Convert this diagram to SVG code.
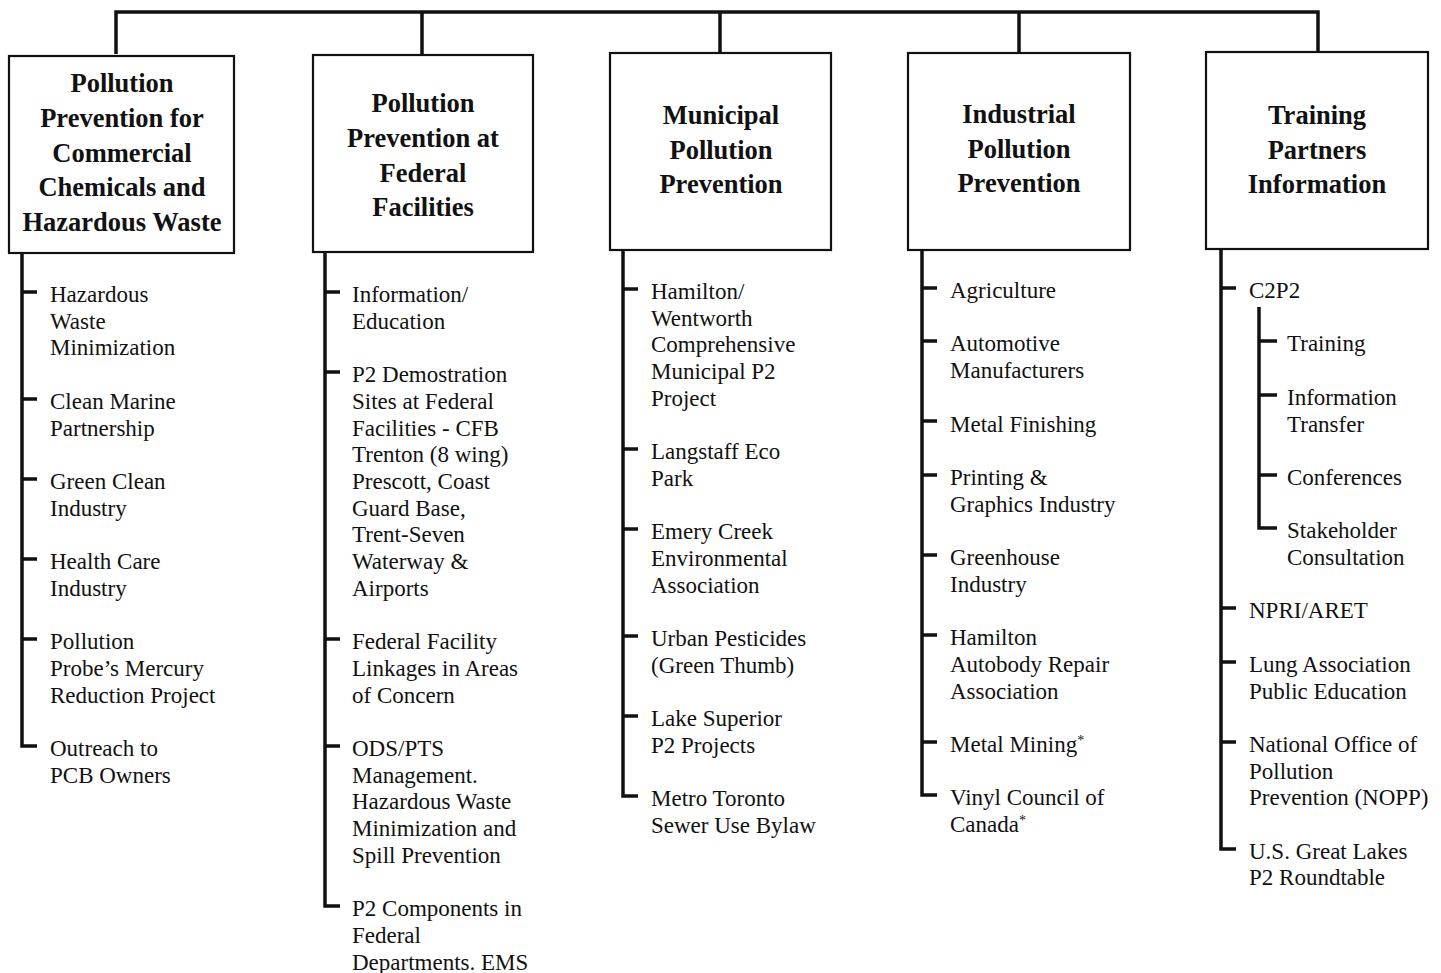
<svg xmlns="http://www.w3.org/2000/svg" width="1441" height="973" viewBox="0 0 1441 973">
<style>
.box{fill:#fff;stroke:#111;stroke-width:2.2}
.title{font-family:"Liberation Serif",serif;font-weight:bold;font-size:26.5px;fill:#111;text-anchor:middle}
.item{font-family:"Liberation Serif",serif;font-size:23px;fill:#111}
.ln{fill:none;stroke:#111;stroke-width:3.5;stroke-linejoin:miter}
.tk{fill:none;stroke:#111;stroke-width:3.5}
.ast{font-size:14px}
</style>
<rect width="1441" height="973" fill="#fff"/>
<g id="connectors">
<path class="ln" d="M116,54 V12 H1318 V52"/>
<path class="ln" d="M422,12 V55"/>
<path class="ln" d="M720,12 V53"/>
<path class="ln" d="M1019,12 V53"/>
<!-- col1 -->
<path class="ln" d="M22,253 V746 H37"/>
<path class="tk" d="M22,292 H37 M22,399 H37 M22,479 H37 M22,559 H37 M22,639 H37"/>
<!-- col2 -->
<path class="ln" d="M325,252 V906 H340"/>
<path class="tk" d="M325,292 H340 M325,372 H340 M325,639 H340 M325,746 H340"/>
<!-- col3 -->
<path class="ln" d="M623,250 V796 H638"/>
<path class="tk" d="M623,289 H638 M623,449 H638 M623,529 H638 M623,636 H638 M623,716 H638"/>
<!-- col4 -->
<path class="ln" d="M922,250 V795 H937"/>
<path class="tk" d="M922,288 H937 M922,341 H937 M922,421 H937 M922,475 H937 M922,555 H937 M922,635 H937 M922,742 H937"/>
<!-- col5 -->
<path class="ln" d="M1221,249 V849 H1236"/>
<path class="tk" d="M1221,288 H1236 M1221,608 H1236 M1221,662 H1236 M1221,742 H1236"/>
<path class="ln" d="M1259,307 V528 H1277"/>
<path class="tk" d="M1259,341 H1277 M1259,395 H1277 M1259,475 H1277"/>
</g>

<g id="box1">
<rect class="box" x="9" y="56" width="225" height="197"/>
<text class="title"><tspan x="122" y="92">Pollution</tspan><tspan x="122" y="127">Prevention for</tspan><tspan x="122" y="162">Commercial</tspan><tspan x="122" y="196">Chemicals and</tspan><tspan x="122" y="231">Hazardous Waste</tspan></text>
</g>
<g id="box2">
<rect class="box" x="313" y="55" width="220" height="197"/>
<text class="title"><tspan x="423" y="112">Pollution</tspan><tspan x="423" y="147">Prevention at</tspan><tspan x="423" y="182">Federal</tspan><tspan x="423" y="216">Facilities</tspan></text>
</g>
<g id="box3">
<rect class="box" x="610" y="53" width="221" height="197"/>
<text class="title"><tspan x="721" y="124">Municipal</tspan><tspan x="721" y="159">Pollution</tspan><tspan x="721" y="193">Prevention</tspan></text>
</g>
<g id="box4">
<rect class="box" x="908" y="53" width="222" height="197"/>
<text class="title"><tspan x="1019" y="123">Industrial</tspan><tspan x="1019" y="158">Pollution</tspan><tspan x="1019" y="192">Prevention</tspan></text>
</g>
<g id="box5">
<rect class="box" x="1206" y="52" width="222" height="197"/>
<text class="title"><tspan x="1317" y="124">Training</tspan><tspan x="1317" y="159">Partners</tspan><tspan x="1317" y="193">Information</tspan></text>
</g>

<g id="col1-items">
<g id="c1-1"><text class="item"><tspan x="50" y="302">Hazardous</tspan><tspan x="50" y="328.7">Waste</tspan><tspan x="50" y="355.4">Minimization</tspan></text></g>
<g id="c1-2"><text class="item"><tspan x="50" y="408.8">Clean Marine</tspan><tspan x="50" y="435.5">Partnership</tspan></text></g>
<g id="c1-3"><text class="item"><tspan x="50" y="488.9">Green Clean</tspan><tspan x="50" y="515.6">Industry</tspan></text></g>
<g id="c1-4"><text class="item"><tspan x="50" y="569">Health Care</tspan><tspan x="50" y="595.7">Industry</tspan></text></g>
<g id="c1-5"><text class="item"><tspan x="50" y="649.1">Pollution</tspan><tspan x="50" y="675.8">Probe’s Mercury</tspan><tspan x="50" y="702.5">Reduction Project</tspan></text></g>
<g id="c1-6"><text class="item"><tspan x="50" y="755.9">Outreach to</tspan><tspan x="50" y="782.6">PCB Owners</tspan></text></g>
</g>

<g id="col2-items">
<g id="c2-1"><text class="item"><tspan x="352" y="302">Information/</tspan><tspan x="352" y="328.7">Education</tspan></text></g>
<g id="c2-2"><text class="item"><tspan x="352" y="382.1">P2 Demostration</tspan><tspan x="352" y="408.8">Sites at Federal</tspan><tspan x="352" y="435.5">Facilities - CFB</tspan><tspan x="352" y="462.2">Trenton (8 wing)</tspan><tspan x="352" y="488.9">Prescott, Coast</tspan><tspan x="352" y="515.6">Guard Base,</tspan><tspan x="352" y="542.3">Trent-Seven</tspan><tspan x="352" y="569">Waterway &amp;</tspan><tspan x="352" y="595.7">Airports</tspan></text></g>
<g id="c2-3"><text class="item"><tspan x="352" y="649.1">Federal Facility</tspan><tspan x="352" y="675.8">Linkages in Areas</tspan><tspan x="352" y="702.5">of Concern</tspan></text></g>
<g id="c2-4"><text class="item"><tspan x="352" y="755.9">ODS/PTS</tspan><tspan x="352" y="782.6">Management.</tspan><tspan x="352" y="809.3">Hazardous Waste</tspan><tspan x="352" y="836">Minimization and</tspan><tspan x="352" y="862.7">Spill Prevention</tspan></text></g>
<g id="c2-5"><text class="item"><tspan x="352" y="916.1">P2 Components in</tspan><tspan x="352" y="942.8">Federal</tspan><tspan x="352" y="969.5">Departments. EMS</tspan></text></g>
</g>

<g id="col3-items">
<g id="c3-1"><text class="item"><tspan x="651" y="299">Hamilton/</tspan><tspan x="651" y="325.7">Wentworth</tspan><tspan x="651" y="352.4">Comprehensive</tspan><tspan x="651" y="379.1">Municipal P2</tspan><tspan x="651" y="405.8">Project</tspan></text></g>
<g id="c3-2"><text class="item"><tspan x="651" y="459.2">Langstaff Eco</tspan><tspan x="651" y="485.9">Park</tspan></text></g>
<g id="c3-3"><text class="item"><tspan x="651" y="539.3">Emery Creek</tspan><tspan x="651" y="566">Environmental</tspan><tspan x="651" y="592.7">Association</tspan></text></g>
<g id="c3-4"><text class="item"><tspan x="651" y="646.1">Urban Pesticides</tspan><tspan x="651" y="672.8">(Green Thumb)</tspan></text></g>
<g id="c3-5"><text class="item"><tspan x="651" y="726.2">Lake Superior</tspan><tspan x="651" y="752.9">P2 Projects</tspan></text></g>
<g id="c3-6"><text class="item"><tspan x="651" y="806.3">Metro Toronto</tspan><tspan x="651" y="833">Sewer Use Bylaw</tspan></text></g>
</g>

<g id="col4-items">
<g id="c4-1"><text class="item" x="950" y="298">Agriculture</text></g>
<g id="c4-2"><text class="item"><tspan x="950" y="351.4">Automotive</tspan><tspan x="950" y="378.1">Manufacturers</tspan></text></g>
<g id="c4-3"><text class="item" x="950" y="431.5">Metal Finishing</text></g>
<g id="c4-4"><text class="item"><tspan x="950" y="484.9">Printing &amp;</tspan><tspan x="950" y="511.6">Graphics Industry</tspan></text></g>
<g id="c4-5"><text class="item"><tspan x="950" y="565">Greenhouse</tspan><tspan x="950" y="591.7">Industry</tspan></text></g>
<g id="c4-6"><text class="item"><tspan x="950" y="645.1">Hamilton</tspan><tspan x="950" y="671.8">Autobody Repair</tspan><tspan x="950" y="698.5">Association</tspan></text></g>
<g id="c4-7"><text class="item" x="950" y="751.9">Metal Mining<tspan class="ast" dy="-7">*</tspan></text></g>
<g id="c4-8"><text class="item"><tspan x="950" y="805.3">Vinyl Council of</tspan><tspan x="950" y="832">Canada</tspan><tspan class="ast" dy="-7">*</tspan></text></g>
</g>

<g id="col5-items">
<g id="c5-1"><text class="item" x="1249" y="298">C2P2</text></g>
<g id="c5-1a"><text class="item" x="1287" y="351.4">Training</text></g>
<g id="c5-1b"><text class="item"><tspan x="1287" y="404.8">Information</tspan><tspan x="1287" y="431.5">Transfer</tspan></text></g>
<g id="c5-1c"><text class="item" x="1287" y="484.9">Conferences</text></g>
<g id="c5-1d"><text class="item"><tspan x="1287" y="538.3">Stakeholder</tspan><tspan x="1287" y="565">Consultation</tspan></text></g>
<g id="c5-2"><text class="item" x="1249" y="618.4">NPRI/ARET</text></g>
<g id="c5-3"><text class="item"><tspan x="1249" y="671.8">Lung Association</tspan><tspan x="1249" y="698.5">Public Education</tspan></text></g>
<g id="c5-4"><text class="item"><tspan x="1249" y="751.9">National Office of</tspan><tspan x="1249" y="778.6">Pollution</tspan><tspan x="1249" y="805.3">Prevention (NOPP)</tspan></text></g>
<g id="c5-5"><text class="item"><tspan x="1249" y="858.7">U.S. Great Lakes</tspan><tspan x="1249" y="885.4">P2 Roundtable</tspan></text></g>
</g>
</svg>
